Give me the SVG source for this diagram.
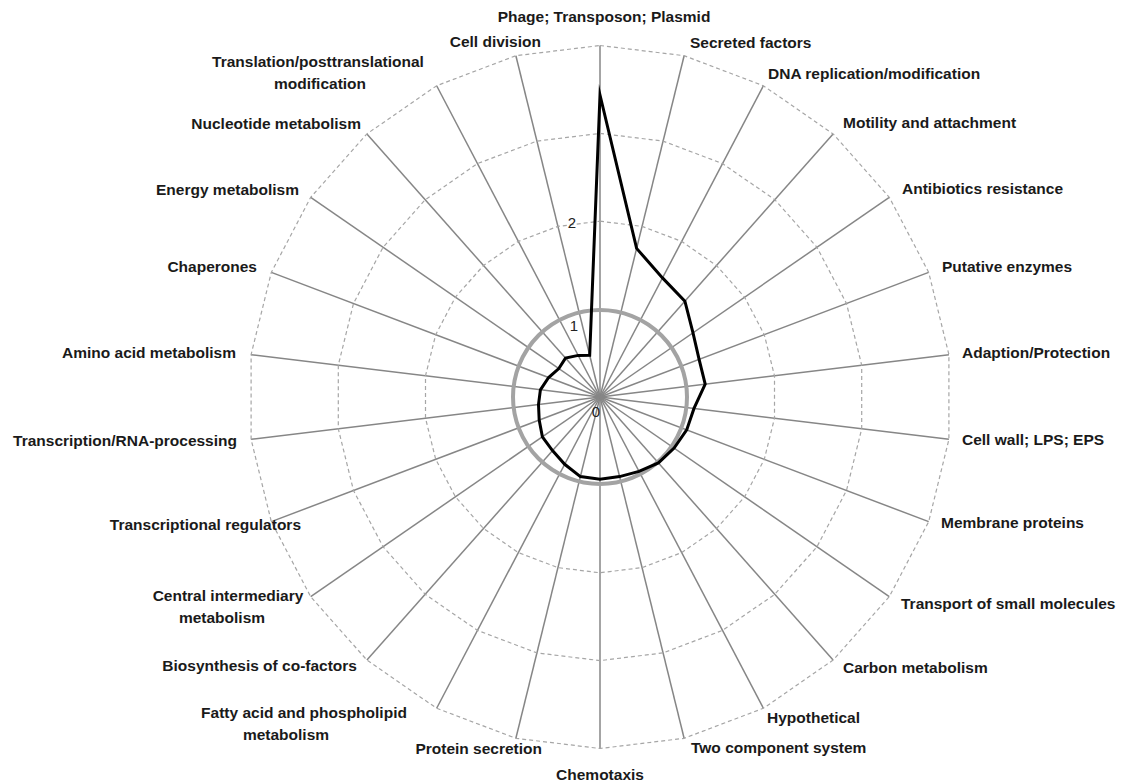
<svg xmlns="http://www.w3.org/2000/svg" width="1121" height="782" viewBox="0 0 1121 782">
<style>
.lbl{font-family:"Liberation Sans",Arial,sans-serif;font-weight:bold;font-size:15.5px;fill:#1a1a1a}
.ax{font-family:"Liberation Sans",Arial,sans-serif;font-size:15px;fill:#222}
.spoke{stroke:#868686;stroke-width:1.5}
.grid{fill:none;stroke:#a6a6a6;stroke-width:1.2;stroke-dasharray:4 3}
.ring{fill:none;stroke:#a3a3a3;stroke-width:4}
.data{fill:none;stroke:#000;stroke-width:3;stroke-linejoin:miter;stroke-miterlimit:20}
.s{text-anchor:start}.e{text-anchor:end}.m{text-anchor:middle}
</style>
<rect width="1121" height="782" fill="#fff"/>
<g id="connectors" transform="translate(600,397)">
<g id="spokes">
<line class="spoke" x1="0" y1="0" x2="0" y2="-351.5" transform="rotate(0)"/>
<line class="spoke" x1="0" y1="0" x2="0" y2="-351.5" transform="rotate(13.846)"/>
<line class="spoke" x1="0" y1="0" x2="0" y2="-351.5" transform="rotate(27.692)"/>
<line class="spoke" x1="0" y1="0" x2="0" y2="-351.5" transform="rotate(41.538)"/>
<line class="spoke" x1="0" y1="0" x2="0" y2="-351.5" transform="rotate(55.385)"/>
<line class="spoke" x1="0" y1="0" x2="0" y2="-351.5" transform="rotate(69.231)"/>
<line class="spoke" x1="0" y1="0" x2="0" y2="-351.5" transform="rotate(83.077)"/>
<line class="spoke" x1="0" y1="0" x2="0" y2="-351.5" transform="rotate(96.923)"/>
<line class="spoke" x1="0" y1="0" x2="0" y2="-351.5" transform="rotate(110.769)"/>
<line class="spoke" x1="0" y1="0" x2="0" y2="-351.5" transform="rotate(124.615)"/>
<line class="spoke" x1="0" y1="0" x2="0" y2="-351.5" transform="rotate(138.462)"/>
<line class="spoke" x1="0" y1="0" x2="0" y2="-351.5" transform="rotate(152.308)"/>
<line class="spoke" x1="0" y1="0" x2="0" y2="-351.5" transform="rotate(166.154)"/>
<line class="spoke" x1="0" y1="0" x2="0" y2="-351.5" transform="rotate(180)"/>
<line class="spoke" x1="0" y1="0" x2="0" y2="-351.5" transform="rotate(193.846)"/>
<line class="spoke" x1="0" y1="0" x2="0" y2="-351.5" transform="rotate(207.692)"/>
<line class="spoke" x1="0" y1="0" x2="0" y2="-351.5" transform="rotate(221.538)"/>
<line class="spoke" x1="0" y1="0" x2="0" y2="-351.5" transform="rotate(235.385)"/>
<line class="spoke" x1="0" y1="0" x2="0" y2="-351.5" transform="rotate(249.231)"/>
<line class="spoke" x1="0" y1="0" x2="0" y2="-351.5" transform="rotate(263.077)"/>
<line class="spoke" x1="0" y1="0" x2="0" y2="-351.5" transform="rotate(276.923)"/>
<line class="spoke" x1="0" y1="0" x2="0" y2="-351.5" transform="rotate(290.769)"/>
<line class="spoke" x1="0" y1="0" x2="0" y2="-351.5" transform="rotate(304.615)"/>
<line class="spoke" x1="0" y1="0" x2="0" y2="-351.5" transform="rotate(318.462)"/>
<line class="spoke" x1="0" y1="0" x2="0" y2="-351.5" transform="rotate(332.308)"/>
<line class="spoke" x1="0" y1="0" x2="0" y2="-351.5" transform="rotate(346.154)"/>
</g>
<g id="gridlines">
<polygon class="grid" points="0,-175.8 42.1,-170.6 81.7,-155.6 116.5,-131.5 144.6,-99.8 164.3,-62.3 174.5,-21.2 174.5,21.2 164.3,62.3 144.6,99.8 116.5,131.5 81.7,155.6 42.1,170.6 0,175.8 -42.1,170.6 -81.7,155.6 -116.5,131.5 -144.6,99.8 -164.3,62.3 -174.5,21.2 -174.5,-21.2 -164.3,-62.3 -144.6,-99.8 -116.5,-131.5 -81.7,-155.6 -42.1,-170.6"/>
<polygon class="grid" points="0,-263.6 63.1,-255.9 122.5,-233.4 174.8,-197.3 216.9,-149.8 246.5,-93.5 261.7,-31.8 261.7,31.8 246.5,93.5 216.9,149.8 174.8,197.3 122.5,233.4 63.1,255.9 0,263.6 -63.1,255.9 -122.5,233.4 -174.8,197.3 -216.9,149.8 -246.5,93.5 -261.7,31.8 -261.7,-31.8 -246.5,-93.5 -216.9,-149.8 -174.8,-197.3 -122.5,-233.4 -63.1,-255.9"/>
<polygon class="grid" points="0,-351.5 84.1,-341.3 163.3,-311.3 233.1,-263.1 289.3,-199.7 328.7,-124.6 348.9,-42.4 348.9,42.4 328.7,124.6 289.3,199.7 233.1,263.1 163.3,311.3 84.1,341.3 0,351.5 -84.1,341.3 -163.3,311.3 -233.1,263.1 -289.3,199.7 -328.7,124.6 -348.9,42.4 -348.9,-42.4 -328.7,-124.6 -289.3,-199.7 -233.1,-263.1 -163.3,-311.3 -84.1,-341.3"/>
</g>
<circle id="ring1" class="ring" cx="0" cy="0" r="87"/>
<polygon id="series" class="data" points="0,-302 36.6,-148.6 62.5,-119.1 84.9,-95.8 93.0,-64.2 99.1,-37.6 105.2,-12.8 94.0,11.4 86.7,32.9 74.1,51.1 58.4,65.9 39.0,74.4 19.6,79.6 0,82.3 -19.6,79.6 -35.3,67.3 -47.5,53.6 -57.6,39.8 -60.8,23.0 -61.5,7.5 -59.6,-7.2 -51.4,-19.5 -41.2,-28.4 -34.5,-38.9 -21.8,-41.6 -10.3,-41.7"/>
</g>
<g id="axis-labels">
<text class="ax m" x="572" y="228">2</text>
<text class="ax m" x="574" y="331">1</text>
<text class="ax m" x="596" y="417">0</text>
</g>
<g id="n0"><text class="lbl m" x="604" y="22">Phage; Transposon; Plasmid</text></g>
<g id="n1"><text class="lbl s" x="690" y="48">Secreted factors</text></g>
<g id="n2"><text class="lbl s" x="768" y="79">DNA replication/modification</text></g>
<g id="n3"><text class="lbl s" x="843" y="128">Motility and attachment</text></g>
<g id="n4"><text class="lbl s" x="902" y="194">Antibiotics resistance</text></g>
<g id="n5"><text class="lbl s" x="942" y="272">Putative enzymes</text></g>
<g id="n6"><text class="lbl s" x="962" y="358">Adaption/Protection</text></g>
<g id="n7"><text class="lbl s" x="962" y="445">Cell wall; LPS; EPS</text></g>
<g id="n8"><text class="lbl s" x="941" y="528">Membrane proteins</text></g>
<g id="n9"><text class="lbl s" x="901" y="609">Transport of small molecules</text></g>
<g id="n10"><text class="lbl s" x="843" y="673">Carbon metabolism</text></g>
<g id="n11"><text class="lbl s" x="767" y="723">Hypothetical</text></g>
<g id="n12"><text class="lbl s" x="691" y="753">Two component system</text></g>
<g id="n13"><text class="lbl m" x="600" y="780">Chemotaxis</text></g>
<g id="n14"><text class="lbl e" x="542" y="754">Protein secretion</text></g>
<g id="n15"><text class="lbl m" x="304" y="718">Fatty acid and phospholipid</text><text class="lbl m" x="286" y="740">metabolism</text></g>
<g id="n16"><text class="lbl e" x="357" y="671">Biosynthesis of co-factors</text></g>
<g id="n17"><text class="lbl m" x="228" y="601">Central intermediary</text><text class="lbl m" x="222" y="623">metabolism</text></g>
<g id="n18"><text class="lbl e" x="301" y="530">Transcriptional regulators</text></g>
<g id="n19"><text class="lbl e" x="237" y="446">Transcription/RNA-processing</text></g>
<g id="n20"><text class="lbl e" x="236" y="358">Amino acid metabolism</text></g>
<g id="n21"><text class="lbl e" x="257" y="272">Chaperones</text></g>
<g id="n22"><text class="lbl e" x="299" y="195">Energy metabolism</text></g>
<g id="n23"><text class="lbl e" x="361" y="129">Nucleotide metabolism</text></g>
<g id="n24"><text class="lbl m" x="318" y="67">Translation/posttranslational</text><text class="lbl m" x="320" y="89">modification</text></g>
<g id="n25"><text class="lbl e" x="541" y="47">Cell division</text></g>
</svg>
